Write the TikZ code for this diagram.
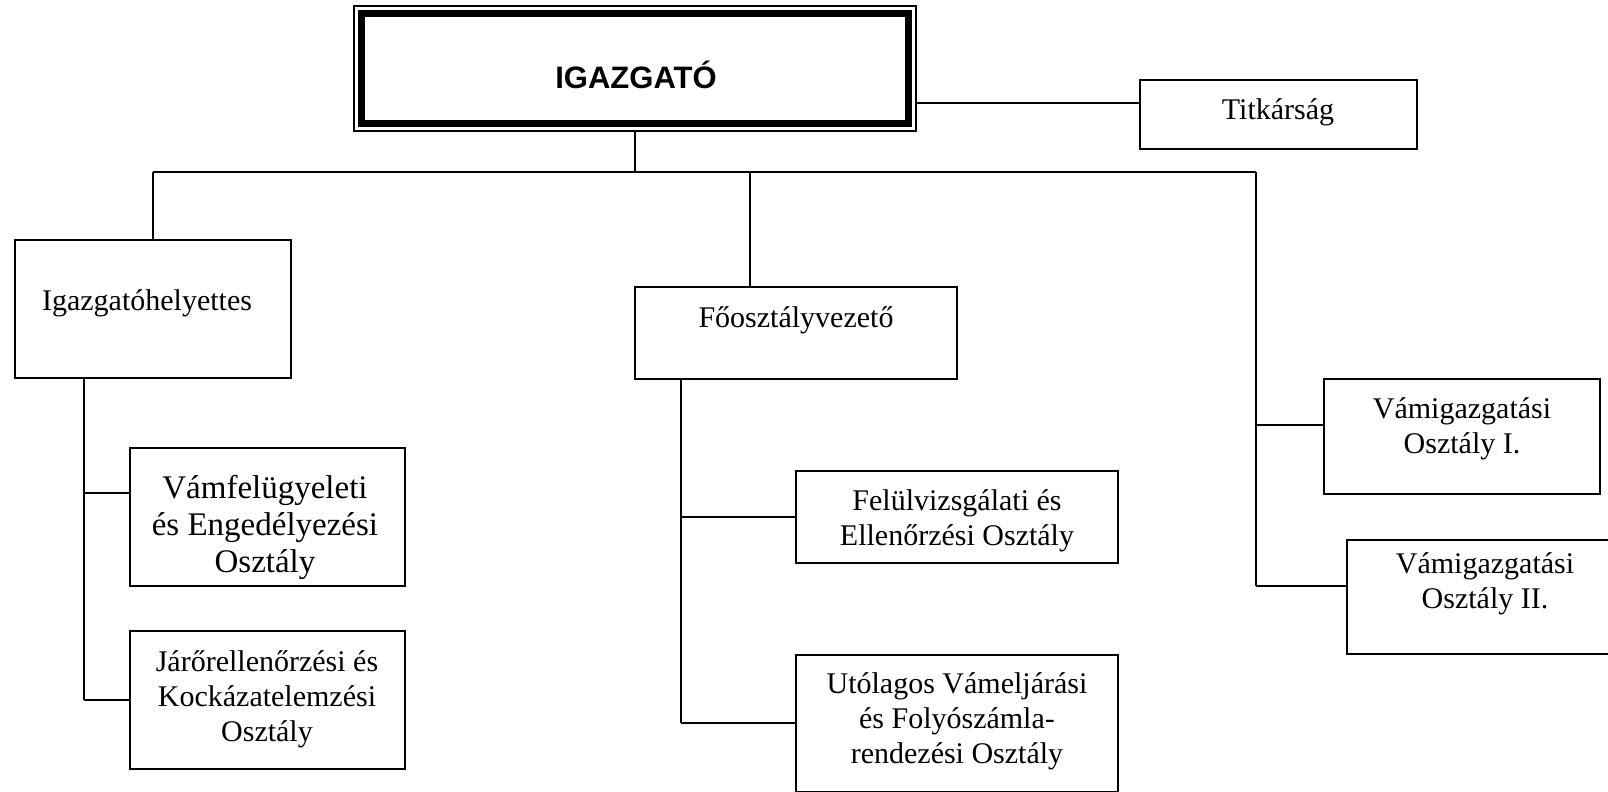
\documentclass[tikz,border=0pt]{standalone}
\usepackage{fontspec}
\setmainfont{Liberation Serif}
\newfontfamily\headfont{Liberation Sans}
\tikzset{
  box/.style={draw, line width=1pt, inner sep=0pt},
  thickbox/.style={draw, line width=3.75pt, inner sep=0pt},
  lbl/.style={inner sep=0pt, align=center, font=\fontsize{15}{17.5}\selectfont},
  biglbl/.style={inner sep=0pt, align=center, font=\fontsize{16.5}{18.5}\selectfont},
  headlbl/.style={inner sep=0pt, font=\headfont\bfseries\fontsize{15.5}{18}\selectfont},
  link/.style={line width=1pt}
}
\newcommand{\mybox}[6][box]{%
  \node[#1, minimum width={(#5-#3)*0.5pt}, minimum height={(#6-#4)*0.5pt}] (#2) at ({(#3+#5)/2},{(#4+#6)/2}) {};}
\begin{document}
\begin{tikzpicture}[x=0.5pt,y=-0.5pt]
\useasboundingbox (0,0) rectangle (1608,792);
% boxes
\mybox{top}{354}{6}{916}{131}
\mybox[thickbox]{topin}{361.7}{13.7}{908.3}{123.3}
\mybox{tit}{1140}{80}{1417}{149}
\mybox{dep}{15}{240}{291}{378}
\mybox{fo}{635}{287}{957}{379}
\mybox{vamA}{1324}{379}{1600}{494}
\mybox{vamB}{1347}{540}{1624}{654}
\mybox{vf}{130}{448}{405}{586}
\mybox{jr}{130}{631}{405}{769}
\mybox{fe}{796}{471}{1118}{563}
\mybox{ut}{796}{655}{1118}{792}
% texts (base = baseline of last line)
\node[headlbl, anchor=base] (tTop) at (636,89) {IGAZGATÓ};
\node[lbl, anchor=base] (tTit) at (1278,120) {Titkárság};
\node[lbl, anchor=base] (tDep) at (147,310) {Igazgatóhelyettes};
\node[lbl, anchor=base] (tFo) at (796,327) {Főosztályvezető};
\node[lbl, anchor=base] (tVamA) at (1462,453) {Vámigazgatási\\Osztály I.};
\node[lbl, anchor=base] (tVamB) at (1485,608) {Vámigazgatási\\Osztály II.};
\node[biglbl, anchor=base] (tVf) at (265,572) {Vámfelügyeleti\\és Engedélyezési\\Osztály};
\node[lbl, anchor=base] (tJr) at (267,741) {Járőrellenőrzési és\\Kockázatelemzési\\Osztály};
\node[lbl, anchor=base] (tFe) at (957,545) {Felülvizsgálati és\\Ellenőrzési Osztály};
\node[lbl, anchor=base] (tUt) at (957,763) {Utólagos Vámeljárási\\és Folyószámla-\\rendezési Osztály};
% bus coordinates
\coordinate (busL) at (153,172);
\coordinate (busM) at (750,172);
\coordinate (busR) at (1256,172);
\coordinate (depB) at (84,378);
\coordinate (foB) at (681,379);
% connectors
\draw[link] (top.south) -- (top.south |- busL);
\draw[link] (busL) -- (busR);
\draw[link] (busL) -- (dep.north);
\draw[link] (busM) -- (busM |- fo.north);
\draw[link] (busR) -- (busR |- 0,586);
\draw[link] (busR |- 0,425) -- (vamA.west |- 0,425);
\draw[link] (busR |- 0,586) -- (vamB.west |- 0,586);
\draw[link] (top.east |- 0,103) -- (tit.west |- 0,103);
\draw[link] (depB) -- (depB |- 0,700);
\draw[link] (depB |- 0,493) -- (vf.west |- 0,493);
\draw[link] (depB |- 0,700) -- (jr.west |- 0,700);
\draw[link] (foB) -- (foB |- 0,723);
\draw[link] (foB |- 0,517) -- (fe.west |- 0,517);
\draw[link] (foB |- 0,723) -- (ut.west |- 0,723);
\end{tikzpicture}
\end{document}
